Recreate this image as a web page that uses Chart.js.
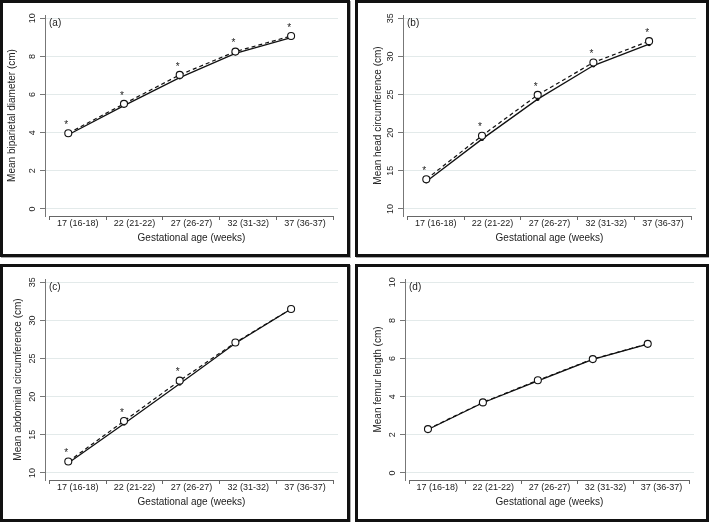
<!DOCTYPE html>
<html>
<head>
<meta charset="utf-8">
<script src="https://cdn.jsdelivr.net/npm/chart.js@4.4.0/dist/chart.umd.min.js"></script>
<style>
  body { margin: 0; background: #fff; width: 709px; height: 522px; position: relative; overflow: hidden; }
  .panel { position: absolute; border: 3px solid #111; box-sizing: border-box; background: #fff; box-shadow: 1px 1px 0 #aaa; }
  .panel canvas { display: block; }
</style>
</head>
<body>
<div class="panel" style="left:0;top:0;width:350px;height:257px"><canvas id="chartA" width="344" height="251"></canvas></div>
<div class="panel" style="left:355px;top:0;width:354px;height:257px"><canvas id="chartB" width="348" height="251"></canvas></div>
<div class="panel" style="left:0;top:264px;width:350px;height:258px"><canvas id="chartC" width="344" height="252"></canvas></div>
<div class="panel" style="left:355px;top:264px;width:354px;height:258px"><canvas id="chartD" width="348" height="252"></canvas></div>

<script>
// gestational age groups
const weeks = [17, 22, 27, 32, 37];
const weekLabels = ['17 (16-18)', '22 (21-22)', '27 (26-27)', '32 (31-32)', '37 (36-37)'];
const weekEdges = [15.3, 20.4, 25.5, 30.6, 35.7, 40.8];

// (a) biparietal diameter
const bpdDashed = [3.97, 5.51, 7.03, 8.25, 9.07];
const bpdSolid = [3.89, 5.42, 6.89, 8.16, 8.98];
const bpdStars = [1, 1, 1, 1, 1];

// (b) head circumference
const hcDashed = [13.9, 19.6, 24.95, 29.2, 32.0];
const hcSolid = [13.6, 19.15, 24.4, 28.8, 31.6];
const hcStars = [1, 1, 1, 1, 1];

// (c) abdominal circumference
const acDashed = [11.5, 16.8, 22.1, 27.1, 31.5];
const acSolid = [11.3, 16.45, 21.7, 27.0, 31.5];
const acStars = [1, 1, 1, 0, 0];

// (d) femur length
const flDashed = [2.3, 3.7, 4.86, 5.97, 6.77];
const flSolid = [2.28, 3.68, 4.83, 5.95, 6.75];
const flStars = [0, 0, 0, 0, 0];

const ticks0to10 = [0, 2, 4, 6, 8, 10];
const ticks10to35 = [10, 15, 20, 25, 30, 35];

const FONT = '"Liberation Sans", Arial, sans-serif';
const xMin = 14.91, xMax = 41.21;

const panelExtras = {
  id: 'panelExtras',
  afterDraw(chart, args, opts) {
    const ctx = chart.ctx;
    const area = chart.chartArea;
    const xt = chart.scales.xt;
    ctx.save();
    // x axis line only between the outer tick marks
    ctx.strokeStyle = '#666';
    ctx.lineWidth = 1;
    ctx.beginPath();
    ctx.moveTo(xt.getPixelForValue(weekEdges[0]), area.bottom + 0.5);
    ctx.lineTo(xt.getPixelForValue(weekEdges[weekEdges.length - 1]), area.bottom + 0.5);
    ctx.stroke();

    ctx.fillStyle = '#222';
    ctx.font = '10px ' + FONT;
    ctx.textAlign = 'left';
    ctx.textBaseline = 'middle';
    ctx.fillText(opts.letter, area.left + 4, area.top + 8);

    // significance asterisks above the dashed points
    const meta = chart.getDatasetMeta(0);
    ctx.textAlign = 'center';
    opts.stars.forEach((s, i) => {
      if (!s) return;
      const p = meta.data[i];
      ctx.fillText('*', p.x - 2, p.y - 8);
    });
    ctx.restore();
  }
};

function makePanel(id, letter, dashed, solid, stars, yTicks, yTitle, yWidth, titlePad, rightPad, bottomPad) {
  const lo = yTicks[0], hi = yTicks[yTicks.length - 1];
  const span = hi - lo;
  const ctx = document.getElementById(id).getContext('2d');
  new Chart(ctx, {
    type: 'line',
    data: {
      datasets: [{
        label: 'Dashed',
        data: weeks.map((w, i) => ({ x: w, y: dashed[i] })),
        borderColor: '#111',
        borderWidth: 1.2,
        borderDash: [4, 3],
        pointRadius: 3.5,
        pointBackgroundColor: '#fff',
        pointBorderColor: '#111',
        pointBorderWidth: 1.1,
        tension: 0
      }, {
        label: 'Solid',
        data: weeks.map((w, i) => ({ x: w, y: solid[i] })),
        borderColor: '#111',
        borderWidth: 1.3,
        pointRadius: 1.3,
        pointBackgroundColor: '#111',
        pointBorderColor: '#111',
        tension: 0
      }]
    },
    options: {
      responsive: false,
      animation: false,
      layout: { padding: { top: 12, right: rightPad, bottom: bottomPad, left: 0 } },
      plugins: {
        legend: { display: false },
        tooltip: { enabled: false },
        panelExtras: { letter: letter, stars: stars }
      },
      scales: {
        xt: {
          type: 'linear',
          position: 'bottom',
          weight: 0,
          min: xMin,
          max: xMax,
          afterBuildTicks: s => { s.ticks = weekEdges.map(v => ({ value: v })); },
          afterFit: s => { s.height = 2; },
          border: { display: false },
          grid: { display: true, drawOnChartArea: false, drawTicks: true, tickLength: 4, tickColor: '#666' },
          ticks: { display: false }
        },
        x: {
          type: 'linear',
          position: 'bottom',
          weight: 1,
          min: xMin,
          max: xMax,
          afterBuildTicks: s => {
            s.ticks = weekLabels.map((l, i) => ({ value: (weekEdges[i] + weekEdges[i + 1]) / 2 }));
          },
          afterFit: s => { s.height = 26; },
          border: { display: false },
          grid: { display: false, drawTicks: false },
          ticks: {
            autoSkip: false, maxRotation: 0, padding: 0, color: '#222',
            font: { family: FONT, size: 9 },
            callback: (v, i) => weekLabels[i]
          },
          title: { display: true, text: 'Gestational age (weeks)', color: '#222', font: { family: FONT, size: 10 }, padding: { top: 0, bottom: 0 } }
        },
        y: {
          type: 'linear',
          min: lo - span * 0.037,
          max: hi + span * 0.017,
          afterBuildTicks: s => { s.ticks = yTicks.map(v => ({ value: v })); },
          afterFit: s => { s.width = yWidth; },
          border: { display: true, color: '#777', width: 1 },
          grid: { color: '#e3eaea', tickColor: '#777', tickLength: 5, drawTicks: true },
          ticks: { minRotation: 90, maxRotation: 90, crossAlign: 'center', padding: 2, color: '#222', font: { family: FONT, size: 9 } },
          title: { display: true, text: yTitle, color: '#222', font: { family: FONT, size: 10 }, padding: { top: titlePad, bottom: 0 } }
        }
      }
    },
    plugins: [panelExtras]
  });
}

makePanel('chartA', '(a)', bpdDashed, bpdSolid, bpdStars, ticks0to10, 'Mean biparietal diameter (cm)', 42, 3, 9, 10);
makePanel('chartB', '(b)', hcDashed, hcSolid, hcStars, ticks10to35, 'Mean head circumference (cm)', 45, 14, 10, 10);
makePanel('chartC', '(c)', acDashed, acSolid, acStars, ticks10to35, 'Mean abdominal circumference (cm)', 42, 9, 9, 11);
makePanel('chartD', '(d)', flDashed, flSolid, flStars, ticks0to10, 'Mean femur length (cm)', 47, 14, 12, 11);
</script>
</body>
</html>
